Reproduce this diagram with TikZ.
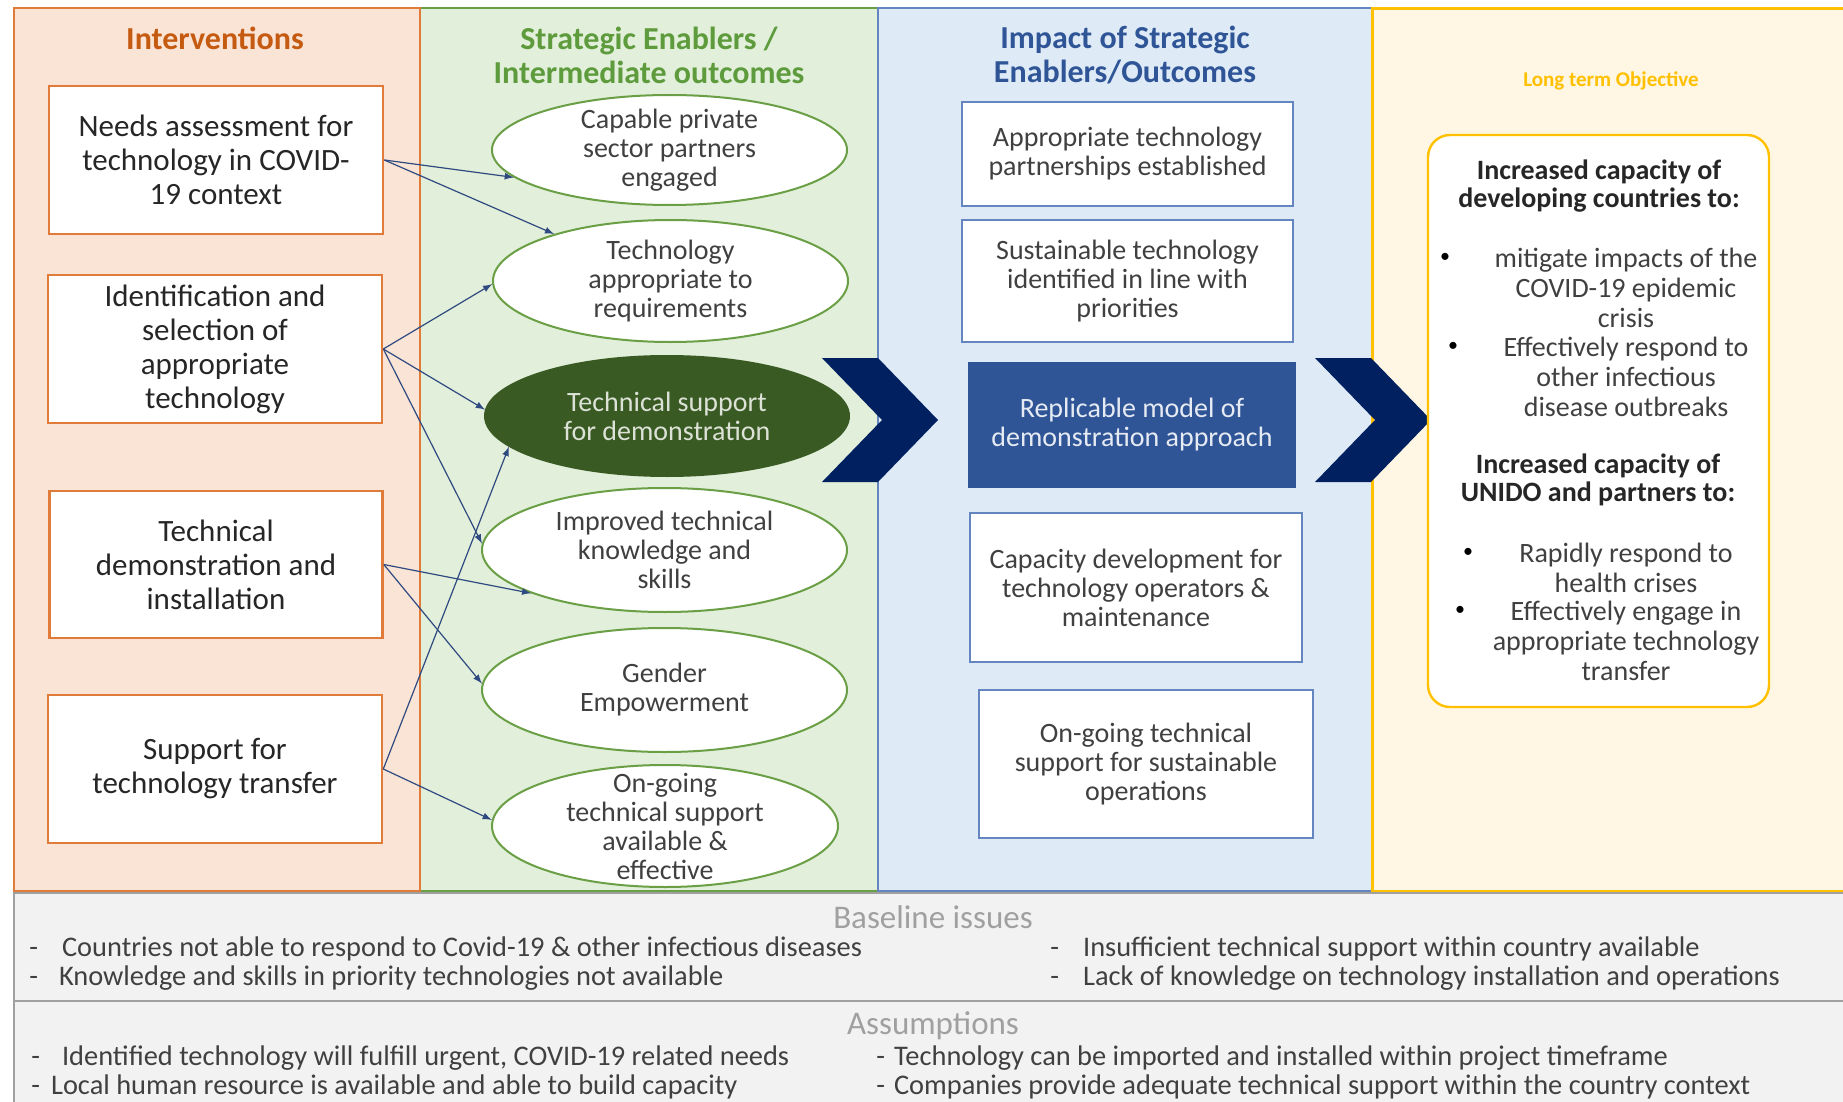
\documentclass[tikz,border=0pt]{standalone}
\usepackage{fontspec}
\setmainfont{Carlito}
\usetikzlibrary{positioning,arrows,shapes.geometric}

\definecolor{orpanel}{HTML}{FAE4D6}
\definecolor{orline}{HTML}{E07B39}
\definecolor{ortitle}{HTML}{C55A11}
\definecolor{grpanel}{HTML}{E2EFDA}
\definecolor{grline}{HTML}{6A9F45}
\definecolor{grtitle}{HTML}{5E9B3D}
\definecolor{grdark}{HTML}{3A5A24}
\definecolor{blpanel}{HTML}{DEEBF7}
\definecolor{blline}{HTML}{6585C0}
\definecolor{bltitle}{HTML}{2F5597}
\definecolor{bldark}{HTML}{2F5597}
\definecolor{ylpanel}{HTML}{FFF6E3}
\definecolor{ylline}{HTML}{FFC000}
\definecolor{chevblue}{HTML}{002060}
\definecolor{arrowblue}{HTML}{2F4A80}
\definecolor{basegray}{HTML}{F2F2F2}
\definecolor{boxgray}{HTML}{A0A0A0}
\definecolor{txt}{HTML}{404040}
\definecolor{headgray}{HTML}{A0A0A0}
\definecolor{paletext}{HTML}{DCE2D6}

\begin{document}
\begin{tikzpicture}[x=0.5pt,y=-0.5pt,
	box/.style={shape=rectangle,draw=orline,line width=1.3pt,fill=white,inner sep=2pt,align=center,text=black!85,font=\fontsize{15.5}{17}\selectfont},
	goal/.style={shape=ellipse,draw=grline,line width=1pt,fill=white,inner sep=0pt},
	goaltext/.style={align=center,text=txt,font=\fontsize{14}{14.5}\selectfont},
	impact/.style={shape=rectangle,draw=blline,line width=1.2pt,fill=white,inner sep=2pt,align=center,text=txt,font=\fontsize{14}{14.5}\selectfont},
	flow/.style={draw=arrowblue,line width=0.6pt,-latex},
	coltitle/.style={align=center,font=\fontsize{16}{17}\selectfont\bfseries},
	objhead/.style={align=center,text=black!85,font=\fontsize{14}{14}\selectfont\bfseries},
	objitem/.style={align=center,text=txt,font=\fontsize{14}{15}\selectfont},
	dot/.style={inner sep=0pt,text=black,font=\fontsize{10}{10}\selectfont},
	issuehead/.style={text=headgray,font=\fontsize{16.5}{17}\selectfont},
	issue/.style={anchor=west,inner sep=0pt,text=txt,font=\fontsize{14.2}{14}\selectfont}]
	\useasboundingbox (0,0) rectangle (1843,1102);

	% Columns
	\fill[orpanel] (14,8) rectangle (420,891);
	\fill[grpanel] (420,8) rectangle (878,891);
	\fill[blpanel] (878,8) rectangle (1372,891);
	\fill[ylpanel] (1372,8) rectangle (1843,891);
	\draw[grline,line width=1.2pt] (420,8) rectangle (878,891);
	\draw[blline,line width=1.2pt] (878,8) rectangle (1372,891);
	\draw[ylline,line width=1.5pt] (1843,9) -- (1372,9) -- (1372,891) -- (1843,891);
	\draw[orline,line width=1.4pt] (14,8) rectangle (420,891);

	\node[coltitle,text=ortitle] (tint) at (215,38) {Interventions};
	\node[coltitle,text=grtitle] (tenab) at (649,55) {Strategic Enablers /\\Intermediate outcomes};
	\node[coltitle,text=bltitle] (timp) at (1125,55) {Impact of Strategic\\Enablers/Outcomes};
	\node[text=ylline,font=\fontsize{10.5}{12}\selectfont\bfseries] (tobj) at (1611,81) {Long term Objective};

	% Chevrons
	\fill[chevblue] (822,358) -- ++(56,0) -- ++(60,62) -- ++(-60,62) -- ++(-56,0) -- ++(60,-62) -- cycle;
	\fill[chevblue] (1315,358) -- ++(56,0) -- ++(60,62) -- ++(-60,62) -- ++(-56,0) -- ++(60,-62) -- cycle;

	% Interventions
	\node[box,minimum width=167pt,minimum height=74pt] (n1) at (216,160) {Needs assessment for\\technology in COVID-\\19 context};
	\node[box,minimum width=167pt,minimum height=74pt] (n2) at (215,349) {Identification and\\selection of\\appropriate\\technology};
	\node[box,minimum width=166.5pt,minimum height=73.5pt] (n3) at (216,564.5) {Technical\\demonstration and\\installation};
	\node[box,minimum width=167pt,minimum height=74pt] (n4) at (215,769) {Support for\\technology transfer};

	% Strategic enablers
	\node[goal,minimum width=177.5pt,minimum height=55pt,label={[goaltext]center:{Capable private\\sector partners\\engaged}}] (e1) at (669.5,150) {};
	\node[goal,minimum width=177.5pt,minimum height=61pt,label={[goaltext]center:{Technology\\appropriate to\\requirements}}] (e2) at (670.5,281) {};
	\node[goal,draw=grdark,fill=grdark,minimum width=182pt,minimum height=60pt,label={[goaltext,text=paletext]center:{Technical support\\for demonstration}}] (e3) at (667,416) {};
	\node[goal,minimum width=182.5pt,minimum height=62pt,label={[goaltext]center:{Improved technical\\knowledge and\\skills}}] (e4) at (664.5,550) {};
	\node[goal,minimum width=182.5pt,minimum height=62pt,label={[goaltext]center:{Gender\\Empowerment}}] (e5) at (664.5,690) {};
	\node[goal,minimum width=173pt,minimum height=61pt,label={[goaltext]center:{On-going\\technical support\\available \&\\effective}}] (e6) at (665,826) {};

	% Impact
	\node[impact,minimum width=165.5pt,minimum height=52pt] (o1) at (1127.5,154) {Appropriate technology\\partnerships established};
	\node[impact,minimum width=165.5pt,minimum height=61pt] (o2) at (1127.5,281) {Sustainable technology\\identified in line with\\priorities};
	\node[impact,draw=bldark,fill=bldark,text=white!88!bldark,minimum width=163pt,minimum height=62pt] (o3) at (1132,425) {Replicable model of\\demonstration approach};
	\node[impact,minimum width=166pt,minimum height=74.5pt] (o4) at (1136,587.5) {Capacity development for\\technology operators \&\\maintenance};
	\node[impact,minimum width=167pt,minimum height=74pt] (o5) at (1146,764) {On-going technical\\support for sustainable\\operations};

	% Long term objective
	\node[shape=rectangle,rounded corners=11pt,draw=ylline,line width=1.2pt,fill=white,minimum width=170.5pt,minimum height=286pt] (obj) at (1598.5,421) {};
	\node[objhead] (h1) at (1599,186) {Increased capacity of\\developing countries to:};
	\node[dot] (d1) at (1445,258) {\textbullet};
	\node[objitem] (i1) at (1626,288) {mitigate impacts of the\\COVID-19 epidemic\\crisis};
	\node[dot] (d2) at (1453,347) {\textbullet};
	\node[objitem] (i2) at (1626,377) {Effectively respond to\\other infectious\\disease outbreaks};
	\node[objhead] (h2) at (1598,480) {Increased capacity of\\UNIDO and partners to:};
	\node[dot] (d3) at (1468,553) {\textbullet};
	\node[objitem] (i3) at (1626,568) {Rapidly respond to\\health crises};
	\node[dot] (d4) at (1460,611) {\textbullet};
	\node[objitem] (i4) at (1626,641) {Effectively engage in\\appropriate technology\\transfer};

	% Links
	\draw[flow] (n1.east) -- (e1.190);
	\draw[flow] (n1.east) -- (e2.158);
	\draw[flow] (n2.east) -- (e2.181);
	\draw[flow] (n2.east) -- (e3.178);
	\draw[flow] (n2.east) -- (e4.178);
	\draw[flow] (n3.east) -- (e4.198);
	\draw[flow] (n3.east) -- (e5.178);
	\draw[flow] (n4.east) -- (e3.191);
	\draw[flow] (n4.east) -- (e6.178);

	% Baseline issues and assumptions
	\fill[basegray] (14,893) rectangle (1843,1102);
	\draw[boxgray,line width=1.2pt] (1843,893) -- (14,893) -- (14,1102);
	\draw[boxgray,line width=1.2pt] (14,1001) -- (1843,1001);

	\node[issuehead] (tbase) at (933,917) {Baseline issues};
	\node[issue] (b1) at (29,949) {-\hspace{12pt}Countries not able to respond to Covid-19 \& other infectious diseases};
	\node[issue] (b2) at (29,978) {-\hspace{10.5pt}Knowledge and skills in priority technologies not available};
	\node[issue] (b3) at (1050,949) {-\hspace{12pt}Insufficient technical support within country available};
	\node[issue] (b4) at (1050,978) {-\hspace{12pt}Lack of knowledge on technology installation and operations};
	\node[issuehead] (tass) at (933,1026) {Assumptions};
	\node[issue] (a1) at (31,1058) {-\hspace{11pt}Identified technology will fulfill urgent, COVID-19 related needs};
	\node[issue] (a2) at (31,1087) {-\hspace{5.5pt}Local human resource is available and able to build capacity};
	\node[issue] (a3) at (876,1058) {-\hspace{4.5pt}Technology can be imported and installed within project timeframe};
	\node[issue] (a4) at (876,1087) {-\hspace{4.5pt}Companies provide adequate technical support within the country context};
\end{tikzpicture}
\end{document}
